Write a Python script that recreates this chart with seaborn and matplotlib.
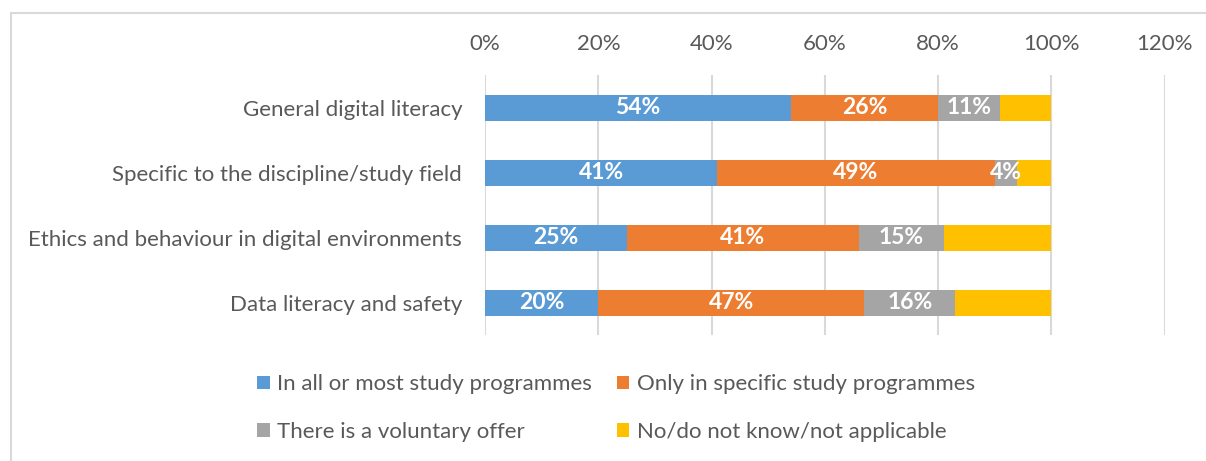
import numpy as np
import pandas as pd
import matplotlib
matplotlib.use("Agg")
import matplotlib.pyplot as plt
import seaborn as sns
from matplotlib.patches import Rectangle, Patch

categories = ["General digital literacy",
              "Specific to the discipline/study field",
              "Ethics and behaviour in digital environments",
              "Data literacy and safety"]
series_names = ["In all or most study programmes",
                "Only in specific study programmes",
                "There is a voluntary offer",
                "No/do not know/not applicable"]
all_most = [54, 41, 25, 20]
specific = [26, 49, 41, 47]
voluntary = [11, 4, 15, 16]
no_dk = [9, 6, 19, 17]
colors = ["#5B9BD5", "#ED7D31", "#A5A5A5", "#FFC000"]
x_ticks = [0, 20, 40, 60, 80, 100, 120]

sns.set_theme(style="white")
plt.rcParams['font.family'] = ['Lato', 'DejaVu Sans']

FS = 16
fig = plt.figure(figsize=(12.06, 4.61), dpi=100)
ax = fig.add_axes([0.4022, 0.273, 0.5635, 0.564])

series = [all_most, specific, voluntary, no_dk]
cum = np.cumsum(np.array(series, dtype=float), axis=0)

# draw from the largest cumulative to the smallest so segments stack
for i in range(3, -1, -1):
    df = pd.DataFrame({"cat": categories, "val": cum[i]})
    sns.barplot(data=df, x="val", y="cat", color=colors[i], orient="h",
                width=0.4, ax=ax, saturation=1, linewidth=0, zorder=3)

# data labels (not for last series)
for i in range(3):
    for j, cat in enumerate(categories):
        v = series[i][j]
        start = cum[i][j] - v
        ax.text(start + v / 2, j, f"{v}%", ha="center", va="center",
                color="white", fontweight="bold", fontsize=FS + 0.5, zorder=5)

ax.set_xlim(0, 120)
ax.set_ylim(3.5, -0.5)
ax.set_xticks(x_ticks)
ax.set_xticklabels([f"{t}%" for t in x_ticks])
ax.xaxis.tick_top()
ax.set_xlabel("")
ax.set_ylabel("")
ax.tick_params(axis="x", labelsize=FS, length=0, pad=15)
ax.tick_params(axis="y", labelsize=FS, length=0, pad=16.5)
for lbl in ax.get_xticklabels() + ax.get_yticklabels():
    lbl.set_color("#595959")
ax.grid(axis="x", color="#D9D9D9", linewidth=1.5, zorder=0)
ax.grid(axis="y", visible=False)
for s in ax.spines.values():
    s.set_visible(False)

# row-major legend order
order = [0, 2, 1, 3]
handles = [Patch(facecolor=colors[k], edgecolor="none") for k in order]
labels = [series_names[k] for k in order]
leg = fig.legend(handles, labels, loc="center", ncol=2,
                 bbox_to_anchor=(0.5 + 13 / 1206, 1 - 408 / 461), frameon=False,
                 fontsize=FS, handlelength=0.55, handleheight=0.55,
                 handletextpad=0.35, columnspacing=1.1, labelspacing=1.25,
                 labelcolor="#595959")

# figure border
fig.patches.append(Rectangle((11 / 1206, -0.1), 1.2, 1.1 - 13 / 461,
                             transform=fig.transFigure, fill=False,
                             edgecolor="#D9D9D9", linewidth=1.5))

fig.savefig("out.png", dpi=100)
